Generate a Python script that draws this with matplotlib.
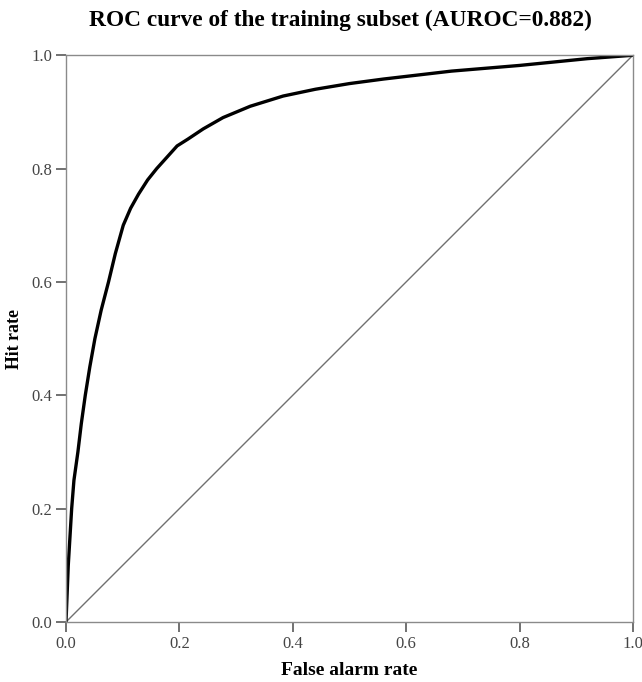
import matplotlib
matplotlib.use("Agg")
import matplotlib.pyplot as plt

# ROC curve of the training subset
far = [0.0, 0.002, 0.004, 0.007, 0.010, 0.014, 0.021, 0.027, 0.034, 0.042,
       0.051, 0.062, 0.075, 0.087, 0.101, 0.114, 0.128, 0.144, 0.160, 0.178,
       0.196, 0.215, 0.242, 0.277, 0.325, 0.383, 0.44, 0.50, 0.56, 0.62,
       0.68, 0.74, 0.80, 0.86, 0.92, 0.96, 1.0]
hit = [0.0, 0.05, 0.10, 0.15, 0.20, 0.25, 0.30, 0.35, 0.40, 0.45,
       0.50, 0.55, 0.60, 0.65, 0.70, 0.73, 0.755, 0.78, 0.80, 0.82,
       0.84, 0.852, 0.87, 0.89, 0.91, 0.928, 0.94, 0.95, 0.958, 0.965,
       0.972, 0.977, 0.982, 0.988, 0.994, 0.997, 1.0]
diag = [0.0, 1.0]
ticks = [0.0, 0.2, 0.4, 0.6, 0.8, 1.0]
tick_labels = ["0.0", "0.2", "0.4", "0.6", "0.8", "1.0"]

plt.rcParams['font.family'] = ['Liberation Serif', 'DejaVu Serif']

fig = plt.figure(figsize=(6.42, 6.82), dpi=100)
ax = fig.add_axes([0.1028, 0.088, 0.883, 0.831])

ax.plot(diag, diag, color='#707070', lw=1.0)
ax.plot(far, hit, color='black', lw=2.4, solid_joinstyle='round')

ax.set_xlim(0, 1)
ax.set_ylim(0, 1)
ax.set_xticks(ticks)
ax.set_xticklabels(tick_labels)
ax.set_yticks(ticks)
ax.set_yticklabels(tick_labels)

for s in ax.spines.values():
    s.set_color('#8a8a8a')
    s.set_linewidth(1.0)

ax.tick_params(direction='out', length=7, width=1.3, color='#666666',
               labelsize=12, labelcolor='#444444', pad=3,
               top=False, right=False)

# title sits a little left of the axes centre in the original
fig.text(340 / 642, 1 - 26 / 682, 'ROC curve of the training subset (AUROC=0.882)',
         ha='center', va='baseline', fontsize=16.8, fontweight='bold')
ax.set_xlabel('False alarm rate', fontsize=14, fontweight='bold', labelpad=7)
ax.set_ylabel('Hit rate', fontsize=12.8, fontweight='bold', labelpad=6)

fig.savefig('out.png', dpi=100)
